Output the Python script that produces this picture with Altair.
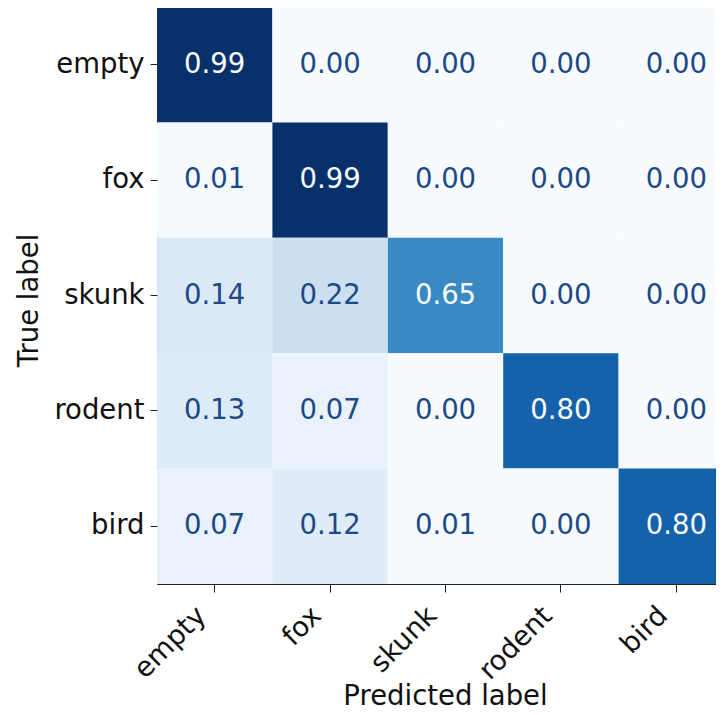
import altair as alt
import pandas as pd

labels = ["empty", "fox", "skunk", "rodent", "bird"]
row_empty = [0.99, 0.00, 0.00, 0.00, 0.00]
row_fox = [0.01, 0.99, 0.00, 0.00, 0.00]
row_skunk = [0.14, 0.22, 0.65, 0.00, 0.00]
row_rodent = [0.13, 0.07, 0.00, 0.80, 0.00]
row_bird = [0.07, 0.12, 0.01, 0.00, 0.80]
rows = [row_empty, row_fox, row_skunk, row_rodent, row_bird]

blues = ["#f7fbff", "#deebf7", "#c6dbef", "#9ecae1", "#6baed6",
         "#4292c6", "#2171b5", "#08519c", "#08306b"]

recs = []
for t, vals in zip(labels, rows):
    for p, v in zip(labels, vals):
        recs.append({"true": t, "pred": p, "value": v, "text": f"{v:.2f}"})
df = pd.DataFrame(recs)

vmin, vmax = 0.0, 0.99
dom = [vmin + (vmax - vmin) * i / (len(blues) - 1) for i in range(len(blues))]
thr = (vmin + vmax) / 2

FONT = "DejaVu Sans"
FS = 27.5
SIDE = 577

x = alt.X("pred:N", sort=labels, scale=alt.Scale(paddingInner=0, paddingOuter=0),
          axis=alt.Axis(title="Predicted label", labelAngle=-45, labelAlign="right",
                        labelBaseline="bottom", tickSize=8, labelPadding=29, labelOffset=-3,
                        domain=False, titleX=288, titleY=120, titleBaseline="alphabetic",
                        titleAnchor="middle"))
y = alt.Y("true:N", sort=labels, scale=alt.Scale(paddingInner=0, paddingOuter=0),
          axis=alt.Axis(title="True label", tickSize=7, labelPadding=6, domain=False,
                        titleX=-120, titleY=293, titleBaseline="alphabetic",
                        titleAngle=270, titleAnchor="middle"))

base = alt.Chart(df)
rect = base.mark_rect().encode(
    x=x, y=y,
    color=alt.Color("value:Q", scale=alt.Scale(domain=dom, range=blues), legend=None),
)
text = base.mark_text(font=FONT, fontSize=FS).encode(
    x=x, y=y,
    text="text:N",
    color=alt.condition(alt.datum.value >= thr, alt.value("#f7fbff"), alt.value("#1c4a87")),
)

chart = (rect + text).properties(
    width=SIDE, height=SIDE,
    autosize=alt.AutoSizeParams(type="none"),
    padding={"left": 149, "top": -1, "right": -18, "bottom": 122},
).configure_view(
    stroke="#222222", strokeWidth=1
).configure_axis(
    labelFont=FONT, titleFont=FONT, labelFontSize=FS, titleFontSize=FS,
    titleFontWeight="normal", labelColor="#111111", titleColor="#111111",
    tickColor="#222222", tickWidth=1, grid=False,
)

chart.save("out.html", embed_options={"renderer": "svg", "actions": False})
